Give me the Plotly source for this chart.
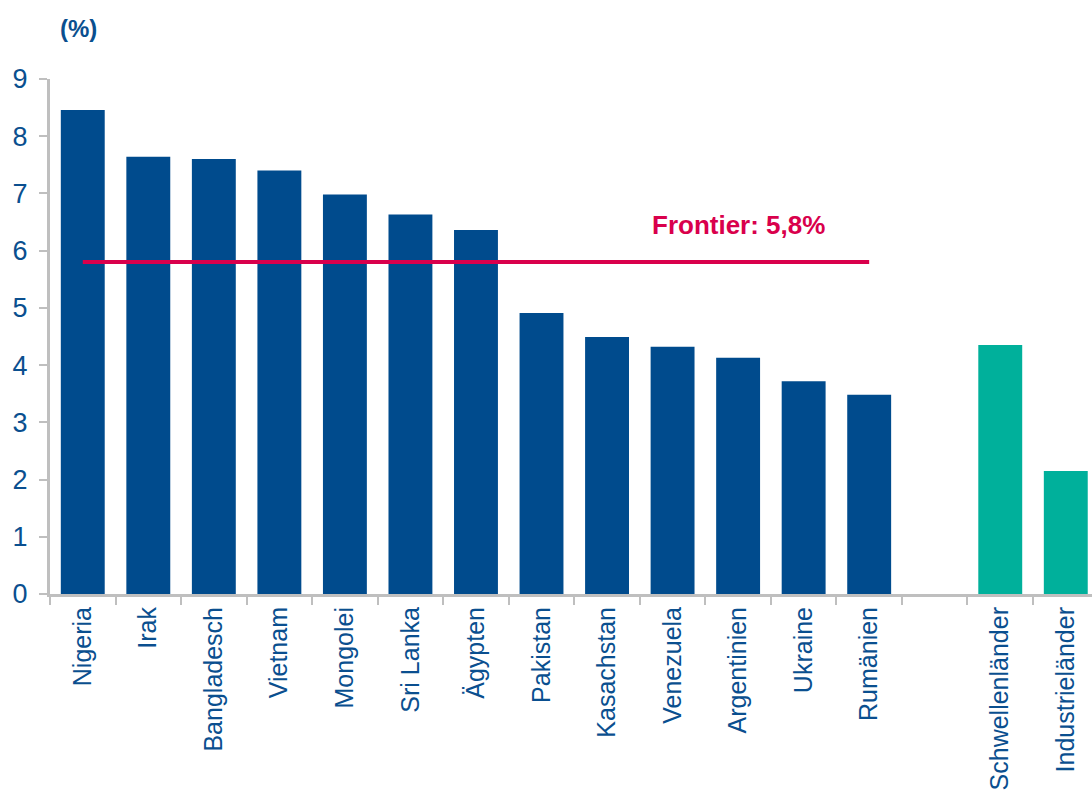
import plotly.graph_objects as go

categories = ["Nigeria", "Irak", "Bangladesch", "Vietnam", "Mongolei", "Sri Lanka",
              "Ägypten", "Pakistan", "Kasachstan", "Venezuela", "Argentinien",
              "Ukraine", "Rumänien", " ", "Schwellenländer", "Industrieländer"]
frontier_countries = categories[:13]
frontier_values = [8.46, 7.64, 7.60, 7.40, 6.98, 6.63, 6.36, 4.91, 4.49, 4.32, 4.13, 3.72, 3.48]
benchmark_names = ["Schwellenländer", "Industrieländer"]
benchmark_values = [4.35, 2.15]
frontier_avg = 5.8
frontier_label = "Frontier: 5,8%"

BLUE = "#004B8D"
GREEN = "#00B09B"
RED = "#D9004C"
TXT = "#0A4F8F"
GRAY = "#BFBFBF"
FONT = "Liberation Sans, Arial"

fig = go.Figure()
fig.add_trace(go.Bar(x=frontier_countries, y=frontier_values, marker_color=BLUE,
                     marker_line_width=0, width=0.67, showlegend=False))
fig.add_trace(go.Bar(x=benchmark_names, y=benchmark_values, marker_color=GREEN,
                     marker_line_width=0, width=0.67, showlegend=False))
fig.add_trace(go.Scatter(x=[frontier_countries[0], frontier_countries[-1]],
                         y=[frontier_avg, frontier_avg], mode="lines",
                         line=dict(color=RED, width=4), showlegend=False))
fig.add_annotation(x="Argentinien", y=6.45, text="<b>" + frontier_label + "</b>",
                   showarrow=False, font=dict(family=FONT, size=26, color=RED))
fig.add_annotation(xref="paper", yref="paper", x=0, y=1.0, xshift=8, yshift=51,
                   xanchor="left", yanchor="middle", text="<b>(%)</b>", showarrow=False,
                   font=dict(family=FONT, size=24, color=TXT))

fig.update_layout(
    width=1092, height=791,
    margin=dict(l=50, r=0, t=79, b=197, autoexpand=False),
    paper_bgcolor="white", plot_bgcolor="white",
    barmode="overlay",
    font=dict(family=FONT, size=24, color=TXT),
    xaxis=dict(type="category", categoryorder="array", categoryarray=categories,
               range=[-0.5, 15.4], tickangle=-90, tickson="boundaries",
               ticks="outside", ticklen=8, tickwidth=2, tickcolor=GRAY,
               showline=True, linecolor=GRAY, linewidth=3, showgrid=False,
               automargin=False, tickfont=dict(size=25, color=TXT)),
    yaxis=dict(range=[0, 9], dtick=1, ticks="outside", ticklen=8, tickwidth=2,
               tickcolor=GRAY, showline=True, linecolor=GRAY, linewidth=3,
               showgrid=False, zeroline=False, automargin=False,
               ticklabelstandoff=6, tickfont=dict(size=27, color=TXT)),
)
fig.write_html("out.html", config={"displayModeBar": False},
               post_script="document.body.style.margin='0';document.body.style.overflow='hidden';")
